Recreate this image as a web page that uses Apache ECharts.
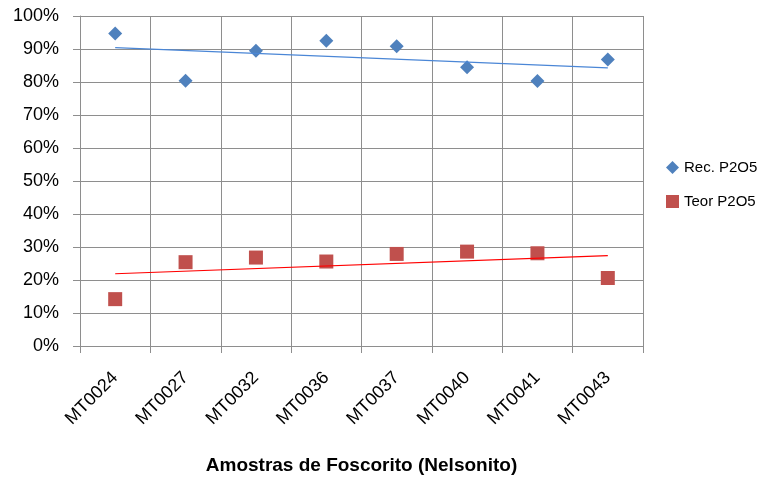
<!DOCTYPE html>
<html>
<head>
<meta charset="utf-8">
<script src="https://cdn.jsdelivr.net/npm/echarts@6/dist/echarts.min.js"></script>
<style>
  html, body { margin: 0; padding: 0; background: #fff; }
  #chart { width: 762px; height: 478px; }
</style>
</head>
<body>
<div id="chart"></div>
<script>
// Sample identifiers (x axis)
const categories = ['MT0024', 'MT0027', 'MT0032', 'MT0036', 'MT0037', 'MT0040', 'MT0041', 'MT0043'];
// Recovery of P2O5 (%)
const recP2O5 = [94.7, 80.4, 89.5, 92.5, 90.8, 84.5, 80.3, 86.8];
// P2O5 grade (%)
const teorP2O5 = [14.2, 25.4, 26.8, 25.6, 27.9, 28.6, 28.1, 20.6];
// Linear trend lines: value at first and last sample
const recTrend = [90.4, 84.3];
const teorTrend = [21.9, 27.4];
// Y axis ticks
const yTicks = [0, 10, 20, 30, 40, 50, 60, 70, 80, 90, 100];

const gridColor = '#8e8e8e';
const font = '"Liberation Sans", Arial, sans-serif';

const chart = echarts.init(document.getElementById('chart'), null, { renderer: 'canvas' });

chart.setOption({
  animation: false,
  backgroundColor: '#ffffff',
  grid: {
    left: 80, right: 119, top: 16, bottom: 132,
    containLabel: false,
    outerBoundsMode: 'none'
  },
  legend: {
    orient: 'vertical',
    left: 661,
    top: 155,
    itemGap: 19,
    itemWidth: 13,
    itemHeight: 13,
    data: [
      { name: 'Rec. P2O5', icon: 'diamond' },
      { name: 'Teor P2O5', icon: 'rect' }
    ],
    textStyle: { fontFamily: font, fontSize: 15, color: '#000' }
  },
  xAxis: {
    type: 'category',
    data: categories,
    boundaryGap: true,
    name: 'Amostras de Foscorito (Nelsonito)',
    nameLocation: 'middle',
    nameGap: 110,
    nameTextStyle: { fontFamily: font, fontSize: 19, fontWeight: 'bold', color: '#000' },
    axisLine: { show: true, lineStyle: { color: gridColor, width: 1 } },
    axisTick: { show: true, length: 7, inside: false, lineStyle: { color: gridColor } },
    axisLabel: { rotate: 45, margin: 29, fontFamily: font, fontSize: 18, color: '#000' },
    splitLine: { show: true, lineStyle: { color: gridColor, width: 1 } }
  },
  yAxis: {
    type: 'value',
    min: yTicks[0],
    max: yTicks[yTicks.length - 1],
    interval: 10,
    axisLine: { show: true, lineStyle: { color: gridColor, width: 1 } },
    axisTick: { show: true, length: 7, lineStyle: { color: gridColor } },
    axisLabel: { formatter: '{value}%', margin: 21, fontFamily: font, fontSize: 18, color: '#000' },
    splitLine: { show: true, lineStyle: { color: gridColor, width: 1 } }
  },
  series: [
    {
      name: 'Rec. P2O5',
      type: 'scatter',
      symbol: 'diamond',
      symbolSize: [14, 14],
      itemStyle: { color: '#4f81bd', opacity: 1 },
      data: recP2O5,
      z: 2
    },
    {
      name: 'Teor P2O5',
      type: 'scatter',
      symbol: 'rect',
      symbolSize: 14,
      itemStyle: { color: '#c0504d', opacity: 1 },
      data: teorP2O5,
      z: 2
    },
    {
      name: 'Rec. trend',
      type: 'line',
      data: [[categories[0], recTrend[0]], [categories[categories.length - 1], recTrend[1]]],
      symbol: 'none',
      lineStyle: { color: '#4a86d6', width: 1.2 },
      silent: true,
      z: 3
    },
    {
      name: 'Teor trend',
      type: 'line',
      data: [[categories[0], teorTrend[0]], [categories[categories.length - 1], teorTrend[1]]],
      symbol: 'none',
      lineStyle: { color: '#ff0000', width: 1.2 },
      silent: true,
      z: 3
    }
  ]
});
</script>
</body>
</html>
